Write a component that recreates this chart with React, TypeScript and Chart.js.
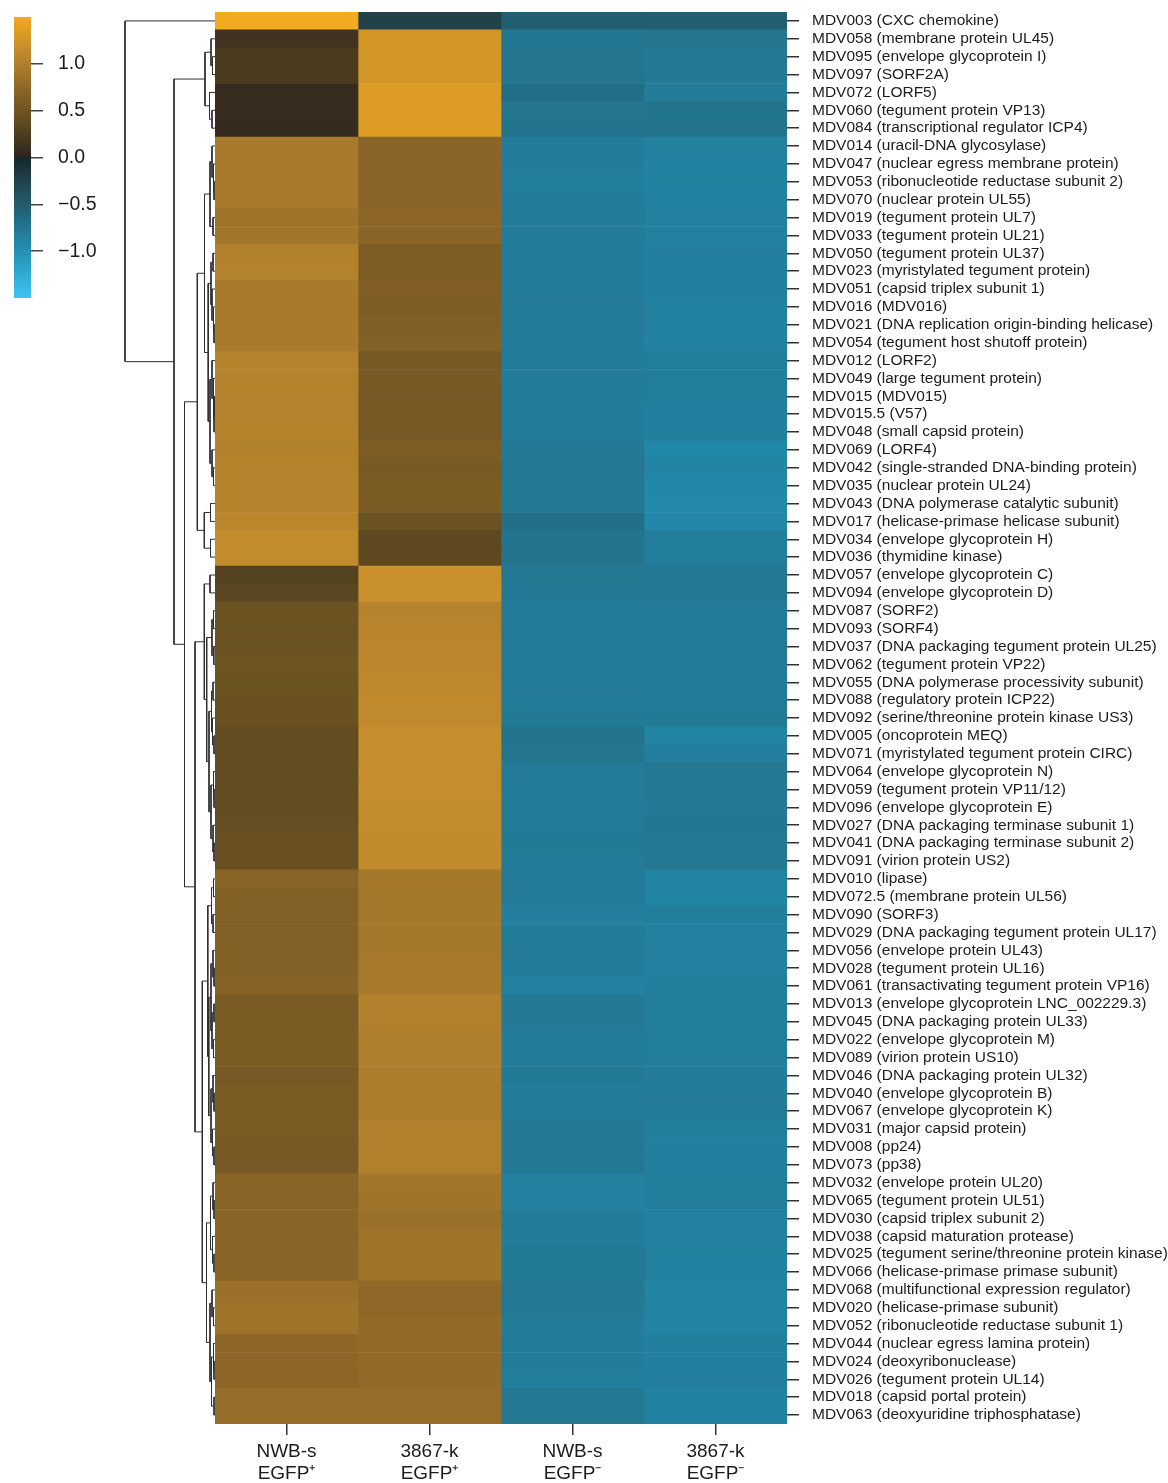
import { useEffect, useRef } from 'react';
import { Chart, registerables } from 'chart.js';

Chart.register(...registerables);

// ---------- data ----------
const rowLabels = [
  'MDV003 (CXC chemokine)',
  'MDV058 (membrane protein UL45)',
  'MDV095 (envelope glycoprotein I)',
  'MDV097 (SORF2A)',
  'MDV072 (LORF5)',
  'MDV060 (tegument protein VP13)',
  'MDV084 (transcriptional regulator ICP4)',
  'MDV014 (uracil-DNA glycosylase)',
  'MDV047 (nuclear egress membrane protein)',
  'MDV053 (ribonucleotide reductase subunit 2)',
  'MDV070 (nuclear protein UL55)',
  'MDV019 (tegument protein UL7)',
  'MDV033 (tegument protein UL21)',
  'MDV050 (tegument protein UL37)',
  'MDV023 (myristylated tegument protein)',
  'MDV051 (capsid triplex subunit 1)',
  'MDV016 (MDV016)',
  'MDV021 (DNA replication origin-binding helicase)',
  'MDV054 (tegument host shutoff protein)',
  'MDV012 (LORF2)',
  'MDV049 (large tegument protein)',
  'MDV015 (MDV015)',
  'MDV015.5 (V57)',
  'MDV048 (small capsid protein)',
  'MDV069 (LORF4)',
  'MDV042 (single-stranded DNA-binding protein)',
  'MDV035 (nuclear protein UL24)',
  'MDV043 (DNA polymerase catalytic subunit)',
  'MDV017 (helicase-primase helicase subunit)',
  'MDV034 (envelope glycoprotein H)',
  'MDV036 (thymidine kinase)',
  'MDV057 (envelope glycoprotein C)',
  'MDV094 (envelope glycoprotein D)',
  'MDV087 (SORF2)',
  'MDV093 (SORF4)',
  'MDV037 (DNA packaging tegument protein UL25)',
  'MDV062 (tegument protein VP22)',
  'MDV055 (DNA polymerase processivity subunit)',
  'MDV088 (regulatory protein ICP22)',
  'MDV092 (serine/threonine protein kinase US3)',
  'MDV005 (oncoprotein MEQ)',
  'MDV071 (myristylated tegument protein CIRC)',
  'MDV064 (envelope glycoprotein N)',
  'MDV059 (tegument protein VP11/12)',
  'MDV096 (envelope glycoprotein E)',
  'MDV027 (DNA packaging terminase subunit 1)',
  'MDV041 (DNA packaging terminase subunit 2)',
  'MDV091 (virion protein US2)',
  'MDV010 (lipase)',
  'MDV072.5 (membrane protein UL56)',
  'MDV090 (SORF3)',
  'MDV029 (DNA packaging tegument protein UL17)',
  'MDV056 (envelope protein UL43)',
  'MDV028 (tegument protein UL16)',
  'MDV061 (transactivating tegument protein VP16)',
  'MDV013 (envelope glycoprotein LNC_002229.3)',
  'MDV045 (DNA packaging protein UL33)',
  'MDV022 (envelope glycoprotein M)',
  'MDV089 (virion protein US10)',
  'MDV046 (DNA packaging protein UL32)',
  'MDV040 (envelope glycoprotein B)',
  'MDV067 (envelope glycoprotein K)',
  'MDV031 (major capsid protein)',
  'MDV008 (pp24)',
  'MDV073 (pp38)',
  'MDV032 (envelope protein UL20)',
  'MDV065 (tegument protein UL51)',
  'MDV030 (capsid triplex subunit 2)',
  'MDV038 (capsid maturation protease)',
  'MDV025 (tegument serine/threonine protein kinase)',
  'MDV066 (helicase-primase primase subunit)',
  'MDV068 (multifunctional expression regulator)',
  'MDV020 (helicase-primase subunit)',
  'MDV052 (ribonucleotide reductase subunit 1)',
  'MDV044 (nuclear egress lamina protein)',
  'MDV024 (deoxyribonuclease)',
  'MDV026 (tegument protein UL14)',
  'MDV018 (capsid portal protein)',
  'MDV063 (deoxyuridine triphosphatase)',
];

const colLabels = [
  ['NWB-s', 'EGFP\u207A'],
  ['3867-k', 'EGFP\u207A'],
  ['NWB-s', 'EGFP\u207B'],
  ['3867-k', 'EGFP\u207B'],
];

// row z-scores, one array per sample column
const nwbPos = [
  1.50, 0.15, 0.22, 0.22, 0.08, 0.08, 0.07, 0.94, 0.94, 0.94,
  0.94, 0.87, 0.90, 1.01, 1.02, 0.94, 0.93, 0.93, 0.94, 1.04,
  1.04, 1.03, 1.03, 1.04, 1.01, 1.04, 1.04, 1.04, 1.07, 1.14,
  1.14, 0.30, 0.35, 0.48, 0.47, 0.47, 0.49, 0.48, 0.46, 0.46,
  0.42, 0.42, 0.40, 0.40, 0.40, 0.43, 0.45, 0.45, 0.71, 0.66,
  0.66, 0.65, 0.65, 0.66, 0.68, 0.59, 0.59, 0.59, 0.59, 0.56,
  0.59, 0.59, 0.59, 0.58, 0.56, 0.71, 0.71, 0.71, 0.71, 0.72,
  0.72, 0.84, 0.86, 0.87, 0.74, 0.74, 0.73, 0.80, 0.80,
];
const k3867Pos = [
  -0.24, 1.27, 1.27, 1.27, 1.34, 1.34, 1.34, 0.71, 0.71, 0.71,
  0.71, 0.73, 0.72, 0.62, 0.62, 0.63, 0.62, 0.63, 0.65, 0.56,
  0.57, 0.56, 0.56, 0.56, 0.62, 0.57, 0.59, 0.60, 0.47, 0.37,
  0.37, 1.19, 1.19, 1.04, 1.05, 1.07, 1.09, 1.10, 1.12, 1.12,
  1.16, 1.16, 1.16, 1.16, 1.14, 1.14, 1.13, 1.13, 0.92, 0.92,
  0.92, 0.92, 0.92, 0.94, 0.94, 1.00, 1.00, 0.98, 0.98, 0.97,
  0.97, 0.97, 1.00, 1.00, 1.00, 0.90, 0.88, 0.84, 0.87, 0.86,
  0.86, 0.75, 0.75, 0.77, 0.78, 0.78, 0.78, 0.80, 0.80,
];
const nwbNeg = [
  -0.53, -0.76, -0.74, -0.75, -0.67, -0.74, -0.73, -0.82, -0.82, -0.83,
  -0.82, -0.81, -0.81, -0.82, -0.82, -0.82, -0.80, -0.80, -0.82, -0.81,
  -0.82, -0.81, -0.82, -0.82, -0.78, -0.77, -0.77, -0.77, -0.68, -0.73,
  -0.73, -0.77, -0.78, -0.80, -0.80, -0.80, -0.80, -0.80, -0.81, -0.79,
  -0.73, -0.74, -0.80, -0.80, -0.80, -0.80, -0.79, -0.80, -0.80, -0.80,
  -0.84, -0.81, -0.80, -0.82, -0.85, -0.78, -0.78, -0.81, -0.81, -0.79,
  -0.82, -0.81, -0.78, -0.78, -0.78, -0.85, -0.85, -0.82, -0.82, -0.79,
  -0.79, -0.77, -0.78, -0.81, -0.82, -0.82, -0.83, -0.77, -0.77,
];
const k3867Neg = [
  -0.53, -0.75, -0.78, -0.78, -0.81, -0.73, -0.72, -0.85, -0.87, -0.86,
  -0.86, -0.85, -0.85, -0.84, -0.84, -0.84, -0.86, -0.87, -0.87, -0.83,
  -0.83, -0.83, -0.84, -0.84, -0.92, -0.89, -0.92, -0.93, -0.91, -0.83,
  -0.83, -0.77, -0.77, -0.80, -0.80, -0.80, -0.80, -0.80, -0.80, -0.79,
  -0.88, -0.84, -0.77, -0.77, -0.78, -0.76, -0.77, -0.77, -0.88, -0.88,
  -0.83, -0.85, -0.85, -0.85, -0.83, -0.83, -0.83, -0.83, -0.83, -0.81,
  -0.81, -0.80, -0.83, -0.84, -0.84, -0.83, -0.83, -0.85, -0.85, -0.86,
  -0.86, -0.88, -0.88, -0.88, -0.84, -0.84, -0.84, -0.87, -0.87,
];

const colorMin = -1.5;
const colorMax = 1.5;
const colorbarTicks = [-1.0, -0.5, 0.0, 0.5, 1.0];

// diverging palette with dark centre
const cmapStops: [number, string][] = [
  [-1.5, '#3cc4f2'],
  [-0.93, '#2289ab'],
  [-0.82, '#237d9a'],
  [-0.75, '#24768f'],
  [-0.67, '#216e87'],
  [-0.53, '#235f70'],
  [-0.24, '#21414b'],
  [-0.01, '#14282e'],
  [0.0, '#222222'],
  [0.01, '#2d241e'],
  [0.22, '#4a3b1f'],
  [0.48, '#6c5322'],
  [0.71, '#8a6427'],
  [0.94, '#a87b2c'],
  [1.16, '#c58d2c'],
  [1.34, '#dd9c24'],
  [1.5, '#f2aa1f'],
];

// row dendrogram: [linkage distance, left, right]; numbers are row indices
const rowTree: any = [9.0, 0,
  [4.1,
    [1.0, [0.4, 1, [0.25, 2, 3]], [0.55, 4, [0.3, 5, 6]]],
    [3.05,
      [1.77,
        [1.05,
          [0.5, [0.3, 7, [0.15, 8, [0.1, 9, 10]]], [0.2, 11, 12]],
          [0.68,
            [0.4, [0.2, 13, 14], [0.3, 15, [0.15, 16, [0.1, 17, 18]]]],
            [0.5, [0.3, 19, [0.15, 20, [0.1, [0.05, 21, 22], 23]]], [0.3, 24, [0.15, 25, 26]]]]],
        [1.07, [0.45, 27, 28], [0.45, 29, 30]]],
      [2.0,
        [1.07, [0.5, 31, 32],
          [0.83,
            [0.3, [0.15, 33, 34], [0.12, 35, 36]],
            [0.6,
              [0.35, [0.2, 37, 38], [0.25, 39, [0.1, 40, 41]]],
              [0.4, [0.15, 42, [0.1, 43, 44]], [0.2, 45, [0.1, 46, 47]]]]]],
        [1.27,
          [0.72,
            [0.35, [0.15, 48, 49], [0.2, 50, 51]],
            [0.62,
              [0.4, [0.2, 52, [0.1, 53, 54]], [0.3, [0.1, 55, 56], [0.15, 57, 58]]],
              [0.4, [0.2, 59, [0.1, 60, 61]], [0.25, 62, [0.1, 63, 64]]]]],
          [0.85,
            [0.45, [0.2, 65, [0.1, 66, 67]], [0.25, 68, [0.1, 69, 70]]],
            [0.5, [0.3, 71, [0.15, 72, 73]], [0.35, [0.15, 74, [0.1, 75, 76]], [0.1, 77, 78]]]]]]]]];

// ---------- helpers ----------
const TEXT = '#1c1c1c';
const FONT = "'Liberation Sans', Arial, sans-serif";

function hexRgb(h: string) {
  const n = parseInt(h.slice(1), 16);
  return [(n >> 16) & 255, (n >> 8) & 255, n & 255];
}

function cmap(v: number) {
  const x = Math.max(colorMin, Math.min(colorMax, v));
  for (let i = 0; i < cmapStops.length - 1; i++) {
    const [v0, c0] = cmapStops[i];
    const [v1, c1] = cmapStops[i + 1];
    if (x >= v0 && x <= v1) {
      const t = v1 === v0 ? 0 : (x - v0) / (v1 - v0);
      const a = hexRgb(c0);
      const b = hexRgb(c1);
      const r = a.map((q, k) => Math.round(q + (b[k] - q) * t));
      return `rgb(${r[0]},${r[1]},${r[2]})`;
    }
  }
  return cmapStops[cmapStops.length - 1][1];
}

function dendroSegments(node: any, out: { x: number; y: number }[][]): { pos: number; h: number } {
  if (typeof node === 'number') return { pos: node, h: 0 };
  const [h, l, r] = node;
  const a = dendroSegments(l, out);
  const b = dendroSegments(r, out);
  out.push([
    { x: a.h, y: a.pos },
    { x: h, y: a.pos },
    { x: h, y: b.pos },
    { x: b.h, y: b.pos },
  ]);
  return { pos: (a.pos + b.pos) / 2, h };
}

const fmtTick = (v: number) => (v < 0 ? '\u2212' : '') + Math.abs(v).toFixed(1);

// remove the automatic label overhang padding so chart areas sit exactly where the layout says
const noOverhang = (s: any) => {
  s.paddingTop = 0;
  s.paddingBottom = 0;
  s.paddingLeft = 0;
  s.paddingRight = 0;
};

export default function App() {
  const heatRef = useRef<HTMLCanvasElement>(null);
  const dendroRef = useRef<HTMLCanvasElement>(null);
  const barRef = useRef<HTMLCanvasElement>(null);

  useEffect(() => {
    Chart.defaults.font.family = FONT;
    Chart.defaults.color = TEXT;
    const charts: Chart[] = [];
    const nRows = rowLabels.length;
    const columns = [nwbPos, k3867Pos, nwbNeg, k3867Neg];

    // heatmap
    charts.push(
      new Chart(heatRef.current!, {
        type: 'bar',
        data: {
          labels: rowLabels,
          datasets: columns.map((vals, i) => ({
            label: colLabels[i].join(' '),
            data: vals.map(() => 1),
            backgroundColor: vals.map(cmap),
            borderWidth: 0,
            barPercentage: 1,
            categoryPercentage: 1,
          })),
        },
        options: {
          indexAxis: 'y',
          animation: false,
          responsive: false,
          events: [],
          layout: { padding: { left: 15, top: 12, right: 0, bottom: 0 } },
          plugins: { legend: { display: false }, tooltip: { enabled: false } },
          scales: {
            x: {
              type: 'linear',
              stacked: true,
              min: 0,
              max: colLabels.length,
              position: 'bottom',
              afterBuildTicks: (s: any) => {
                s.ticks = colLabels.map((_, i) => ({ value: i + 0.5 }));
              },
              afterFit: (s: any) => {
                s.height = 59;
                noOverhang(s);
              },
              ticks: {
                callback: (v: any) => colLabels[Math.floor(Number(v))],
                font: { size: 19, lineHeight: 1.15 },
                color: TEXT,
                padding: 6,
                maxRotation: 0,
                autoSkip: false,
              },
              grid: { drawOnChartArea: false, drawTicks: true, tickLength: 11, color: '#333', lineWidth: 1.5 },
              border: { display: false },
            },
            y: {
              type: 'category',
              stacked: true,
              position: 'right',
              offset: true,
              afterFit: (s: any) => {
                s.width = 381;
                noOverhang(s);
              },
              ticks: { autoSkip: false, font: { size: 15.5 }, color: TEXT, padding: 13 },
              grid: { offset: false, drawOnChartArea: false, drawTicks: true, tickLength: 12, color: '#333', lineWidth: 1.5 },
              border: { display: false },
            },
          },
        } as any,
      })
    );

    // dendrogram
    const segs: { x: number; y: number }[][] = [];
    dendroSegments(rowTree, segs);
    charts.push(
      new Chart(dendroRef.current!, {
        type: 'scatter',
        data: {
          datasets: segs.map((s) => ({
            data: s,
            showLine: true,
            borderColor: '#2e2e2e',
            borderWidth: 1,
            pointRadius: 0,
            tension: 0,
            clip: false as any,
          })),
        },
        options: {
          animation: false,
          responsive: false,
          events: [],
          layout: { padding: { left: 15, right: 5, top: 12, bottom: 16 } },
          plugins: { legend: { display: false }, tooltip: { enabled: false } },
          scales: {
            x: { type: 'linear', reverse: true, min: 0, max: rowTree[0], display: false },
            y: { type: 'linear', reverse: true, min: -0.5, max: nRows - 0.5, display: false },
          },
        } as any,
      })
    );

    // colour bar
    charts.push(
      new Chart(barRef.current!, {
        type: 'bar',
        data: {
          labels: [''],
          datasets: [
            {
              data: [[colorMin, colorMax]] as any,
              backgroundColor: (ctx: any) => {
                const chart = ctx.chart;
                const y = chart.scales?.y;
                if (!chart.chartArea || !y) return '#888';
                const g = chart.ctx.createLinearGradient(0, y.getPixelForValue(colorMin), 0, y.getPixelForValue(colorMax));
                cmapStops.forEach(([v, c]) => g.addColorStop((v - colorMin) / (colorMax - colorMin), c));
                return g;
              },
              borderWidth: 0,
              barPercentage: 1,
              categoryPercentage: 1,
            },
          ],
        },
        options: {
          animation: false,
          responsive: false,
          events: [],
          layout: { padding: { left: 14, top: 17, bottom: 12, right: 0 } },
          plugins: { legend: { display: false }, tooltip: { enabled: false } },
          scales: {
            x: { display: false },
            y: {
              position: 'right',
              min: colorMin,
              max: colorMax,
              afterBuildTicks: (s: any) => {
                s.ticks = colorbarTicks.map((v) => ({ value: v }));
              },
              afterFit: (s: any) => {
                s.width = 89;
                noOverhang(s);
              },
              ticks: { callback: (v: any) => fmtTick(Number(v)), font: { size: 19.5 }, color: TEXT, padding: 15 },
              grid: { drawOnChartArea: false, drawTicks: true, tickLength: 12, color: '#444', lineWidth: 1.5 },
              border: { display: false },
            },
          },
        } as any,
      })
    );

    return () => charts.forEach((c) => c.destroy());
  }, []);

  return (
    <div style={{ position: 'absolute', left: 0, top: 0, width: 1168, height: 1483, background: '#fff' }}>
      <canvas ref={barRef} width={120} height={310} style={{ position: 'absolute', left: 0, top: 0, width: 120, height: 310 }} />
      <canvas ref={dendroRef} width={110} height={1440} style={{ position: 'absolute', left: 110, top: 0, width: 110, height: 1440 }} />
      <canvas ref={heatRef} width={968} height={1483} style={{ position: 'absolute', left: 200, top: 0, width: 968, height: 1483 }} />
    </div>
  );
}
